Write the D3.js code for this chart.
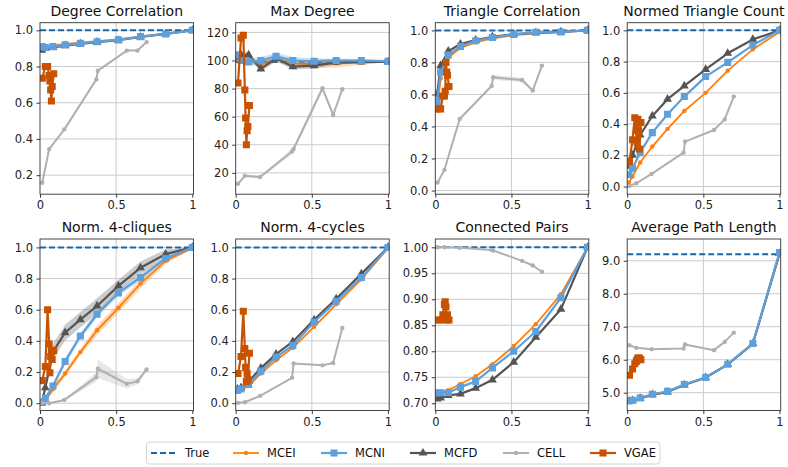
<!DOCTYPE html>
<html>
<head>
<meta charset="utf-8">
<script src="https://cdn.jsdelivr.net/npm/d3@7"></script>
<style>
  body { margin: 0; background: #fff; }
  svg { font-family: "DejaVu Sans", sans-serif; }
</style>
</head>
<body>
<svg id="chart" width="788" height="467"></svg>
<script>
// panel titles, in reading order
const titles = ['Degree Correlation', 'Max Degree', 'Triangle Correlation', 'Normed Triangle Count',
  'Norm. 4-cliques', 'Norm. 4-cycles', 'Connected Pairs', 'Average Path Length'];

// x positions (fraction of edges) for each method
const xMC = [0.012, 0.035, 0.085, 0.165, 0.265, 0.375, 0.515, 0.66, 0.825, 1.0];
const xCell = [0.015, 0.06, 0.16, 0.37, 0.38, 0.57, 0.64, 0.70];
const xVgae = [0.015, 0.035, 0.05, 0.06, 0.065, 0.07, 0.075, 0.08, 0.09];

// true value per panel
const trueVals = [1, 99, 1, 1, 1, 1, 1, 9.2];

// one row per panel
const MCEI = [
  [0.915, 0.91, 0.915, 0.925, 0.932, 0.94, 0.95, 0.967, 0.982, 1.0],
  [103, 101, 100, 97, 101, 98, 97.5, 98, 98.5, 99],
  [0.5, 0.7, 0.83, 0.89, 0.925, 0.95, 0.97, 0.982, 0.99, 1.0],
  [0.026, 0.064, 0.154, 0.256, 0.369, 0.484, 0.60, 0.742, 0.878, 0.99],
  [0.0, 0.017, 0.09, 0.19, 0.328, 0.468, 0.612, 0.768, 0.914, 0.994],
  [0.075, 0.085, 0.11, 0.19, 0.275, 0.355, 0.49, 0.635, 0.795, 0.995],
  [0.72, 0.72, 0.725, 0.737, 0.752, 0.775, 0.81, 0.852, 0.91, 1.0],
  [4.75, 4.77, 4.82, 4.93, 5.02, 5.23, 5.45, 5.85, 6.47, 9.2]
];
const MCNI = [
  [0.91, 0.905, 0.91, 0.92, 0.928, 0.937, 0.947, 0.965, 0.98, 1.0],
  [104, 100, 99, 100, 103, 100, 99.5, 100, 100, 99.5],
  [0.555, 0.74, 0.846, 0.90, 0.935, 0.956, 0.975, 0.988, 0.99, 1.0],
  [0.075, 0.117, 0.217, 0.345, 0.463, 0.576, 0.704, 0.795, 0.906, 1.0],
  [0.006, 0.032, 0.11, 0.268, 0.431, 0.571, 0.708, 0.807, 0.929, 1.0],
  [0.082, 0.092, 0.12, 0.206, 0.296, 0.371, 0.521, 0.654, 0.807, 1.0],
  [0.72, 0.72, 0.72, 0.731, 0.742, 0.768, 0.80, 0.838, 0.903, 1.0],
  [4.75, 4.77, 4.84, 4.95, 5.04, 5.25, 5.46, 5.86, 6.49, 9.25]
];
const MCFD = [
  [0.89, 0.9, 0.905, 0.915, 0.925, 0.935, 0.945, 0.963, 0.98, 1.0],
  [102, 104, 104, 94, 101.5, 95.6, 96.3, 98.7, 99, 99],
  [0.6, 0.78, 0.87, 0.915, 0.94, 0.96, 0.977, 0.985, 0.99, 1.0],
  [0.13, 0.2, 0.33, 0.452, 0.559, 0.644, 0.75, 0.853, 0.942, 1.0],
  [0.0, 0.1, 0.33, 0.453, 0.536, 0.624, 0.753, 0.869, 0.957, 1.0],
  [0.09, 0.10, 0.14, 0.225, 0.315, 0.395, 0.535, 0.67, 0.83, 1.0],
  [0.708, 0.71, 0.715, 0.718, 0.729, 0.745, 0.779, 0.827, 0.881, 1.0],
  [4.74, 4.76, 4.83, 4.94, 5.02, 5.24, 5.46, 5.86, 6.49, 9.22]
];
const CELL = [
  [0.158, 0.344, 0.453, 0.729, 0.777, 0.888, 0.888, 0.935],
  [12.2, 17.9, 17, 35.2, 37, 80.2, 61.2, 79.5],
  [0.05, 0.129, 0.447, 0.653, 0.707, 0.69, 0.624, 0.78],
  [0.004, 0.021, 0.081, 0.217, 0.288, 0.362, 0.43, 0.576],
  [0.002, 0.0, 0.021, 0.167, 0.221, 0.124, 0.14, 0.217],
  [0.002, 0.006, 0.047, 0.163, 0.255, 0.243, 0.258, 0.483],
  [1.0, 1.0, 0.999, 0.995, 0.994, 0.974, 0.965, 0.953],
  [6.44, 6.36, 6.32, 6.34, 6.46, 6.29, 6.54, 6.82]
];
const VGAE = [
  [0.735, 0.80, 0.80, 0.75, 0.72, 0.67, 0.61, 0.69, 0.76],
  [84, 116, 118, 79, 59, 40, 50, 53, 68],
  [0.51, 0.51, 0.59, 0.59, 0.62, 0.80, 0.74, 0.72, 0.65],
  [0.16, 0.30, 0.44, 0.36, 0.28, 0.43, 0.35, 0.24, 0.41],
  [0.145, 0.235, 0.60, 0.38, 0.195, 0.30, 0.33, 0.28, 0.34],
  [0.19, 0.30, 0.59, 0.35, 0.23, 0.14, 0.19, 0.15, 0.32],
  [0.86, 0.86, 0.87, 0.89, 0.895, 0.885, 0.86, 0.87, 0.86],
  [5.53, 5.72, 5.88, 5.95, 6.0, 6.05, 6.02, 6.05, 6.0]
];

// half-width of the shaded spread, only where it is visible (panel index -> values)
const spreadMCEI = { 1: [2, 2, 2, 2, 2, 2, 3, 3, 1.5, 0], 4: [0, 0.01, 0.02, 0.02, 0.02, 0.03, 0.03, 0.03, 0.02, 0] };
const spreadMCNI = { 1: [3, 2.5, 2.5, 2.5, 2.5, 2.5, 2, 1.5, 1, 0], 4: [0, 0.01, 0.02, 0.02, 0.02, 0.02, 0.02, 0.02, 0.01, 0] };
const spreadMCFD = { 1: [2, 2, 2, 2, 2, 2, 2, 1.5, 1, 0], 4: [0, 0.03, 0.05, 0.05, 0.05, 0.05, 0.04, 0.04, 0.03, 0] };
const spreadCELL = { 1: [1, 1, 1, 2, 2, 2, 2, 1], 2: [0.01, 0.01, 0.01, 0.01, 0.015, 0.015, 0.01, 0.01],
  4: [0, 0, 0.005, 0.03, 0.06, 0.03, 0.02, 0.01] };

// layout
const panelLeft = [40, 235.7, 435.3, 627.2];
const rowTop = [22.7, 239];
const plotW = 153.5, plotH = 171.5;
const yDomains = [[0.095, 1.042], [4.8, 126.9], [-0.023, 1.048], [-0.049, 1.049],
  [-0.047, 1.054], [-0.047, 1.054], [0.686, 1.016], [4.46, 9.66]];
const yTicks = [
  [0.2, 0.4, 0.6, 0.8, 1.0], [20, 40, 60, 80, 100, 120], [0, 0.2, 0.4, 0.6, 0.8, 1.0], [0, 0.2, 0.4, 0.6, 0.8, 1.0],
  [0, 0.2, 0.4, 0.6, 0.8, 1.0], [0, 0.2, 0.4, 0.6, 0.8, 1.0], [0.70, 0.75, 0.80, 0.85, 0.90, 0.95, 1.00], [5, 6, 7, 8, 9]
];
const yFormats = ['.1f', 'd', '.1f', '.1f', '.1f', '.1f', '.2f', '.1f'];

const seriesStyle = {
  MCEI: { data: MCEI, x: xMC, spread: spreadMCEI, color: '#ff7f0e', marker: 'dot', lw: 1.8 },
  MCNI: { data: MCNI, x: xMC, spread: spreadMCNI, color: '#5da0db', marker: 'square', lw: 2.2 },
  MCFD: { data: MCFD, x: xMC, spread: spreadMCFD, color: '#555555', marker: 'triangle', lw: 2.2 },
  CELL: { data: CELL, x: xCell, spread: spreadCELL, color: '#b0b0b0', marker: 'dot', lw: 2 },
  VGAE: { data: VGAE, x: xVgae, spread: {}, color: '#c85200', marker: 'square', lw: 2.2 }
};
// drawing order (MCNI sits on top of MCFD in the figure)
const drawOrder = ['MCEI', 'MCFD', 'MCNI', 'CELL', 'VGAE'];
const trueColor = '#1a66aa';

const svg = d3.select('#chart');

function drawMarker(sel, marker, color) {
  if (marker === 'dot') {
    sel.append('circle').attr('r', 2.2).attr('fill', color);
  } else if (marker === 'square') {
    sel.append('path').attr('d', d3.symbol(d3.symbolSquare, 50)()).attr('fill', color);
  } else {
    sel.append('path').attr('d', d3.symbol(d3.symbolTriangle, 34)()).attr('fill', color);
  }
}

titles.forEach((title, p) => {
  const row = Math.floor(p / 4), col = p % 4;
  const g = svg.append('g').attr('transform', `translate(${panelLeft[col]},${rowTop[row]})`);

  const x = d3.scaleLinear().domain([0, 1.008]).range([0, plotW]);
  const y = d3.scaleLinear().domain(yDomains[p]).range([plotH, 0]);

  g.append('clipPath').attr('id', `clip${p}`)
    .append('rect').attr('width', plotW).attr('height', plotH);

  // grid
  const grid = g.append('g').attr('stroke', '#cbcbcb').attr('stroke-width', 1);
  yTicks[p].forEach(t => {
    grid.append('line').attr('x1', 0).attr('x2', plotW).attr('y1', y(t)).attr('y2', y(t));
  });
  grid.append('line').attr('x1', x(0.5)).attr('x2', x(0.5)).attr('y1', 0).attr('y2', plotH);

  const plot = g.append('g').attr('clip-path', `url(#clip${p})`);

  // true value
  plot.append('line')
    .attr('x1', 0).attr('x2', plotW)
    .attr('y1', y(trueVals[p])).attr('y2', y(trueVals[p]))
    .attr('stroke', trueColor).attr('stroke-width', 2).attr('stroke-dasharray', '6,3');

  drawOrder.forEach(name => {
    const s = seriesStyle[name];
    const vals = s.data[p];
    const pts = vals.map((v, i) => ({ x: s.x[i], y: v }));
    const sp = s.spread[p];
    if (sp) {
      const area = d3.area()
        .x(d => x(d.x))
        .y0((d, i) => y(d.y - sp[i]))
        .y1((d, i) => y(d.y + sp[i]));
      plot.append('path').datum(pts)
        .attr('d', area)
        .attr('fill', s.color).attr('fill-opacity', 0.3);
    }
    const line = d3.line().x(d => x(d.x)).y(d => y(d.y));
    plot.append('path').datum(pts)
      .attr('d', line)
      .attr('fill', 'none').attr('stroke', s.color).attr('stroke-width', s.lw)
      .attr('stroke-linejoin', 'round');
    plot.selectAll(null).data(pts).enter()
      .append('g')
      .attr('transform', d => `translate(${x(d.x)},${y(d.y)})`)
      .each(function() { drawMarker(d3.select(this), s.marker, s.color); });
  });

  // axes
  const fmt = d3.format(yFormats[p]);
  const yAxis = d3.axisLeft(y).tickValues(yTicks[p]).tickFormat(fmt).tickSize(3.5).tickPadding(3.5);
  const xAxis = d3.axisBottom(x).tickValues([0, 0.5, 1]).tickFormat(d => d === 0.5 ? '0.5' : String(d))
    .tickSize(3.5).tickPadding(3.5);
  const ya = g.append('g').call(yAxis);
  const xa = g.append('g').attr('transform', `translate(0,${plotH})`).call(xAxis);
  [ya, xa].forEach(a => {
    a.select('.domain').remove();
    a.selectAll('line').attr('stroke', '#222').attr('stroke-width', 0.9);
    a.selectAll('text').attr('font-size', 11.5).attr('fill', '#222')
      .attr('font-family', '"DejaVu Sans", sans-serif');
  });

  // spines
  g.append('rect').attr('width', plotW).attr('height', plotH)
    .attr('fill', 'none').attr('stroke', '#333').attr('stroke-width', 0.9);

  g.append('text')
    .attr('x', plotW / 2).attr('y', -7)
    .attr('text-anchor', 'middle')
    .attr('font-size', 14).attr('fill', '#111')
    .text(title);
});

// legend
const legendEntries = ['True', 'MCEI', 'MCNI', 'MCFD', 'CELL', 'VGAE'];
const legendX = [151, 233, 321, 410, 503, 590];
const legend = svg.append('g');
legend.append('rect')
  .attr('x', 146.5).attr('y', 442).attr('width', 513.5).attr('height', 22).attr('rx', 3)
  .attr('fill', '#fff').attr('stroke', '#d5d5d5').attr('stroke-width', 1);
legendEntries.forEach((name, i) => {
  const lg = legend.append('g').attr('transform', `translate(${legendX[i]},453)`);
  if (name === 'True') {
    lg.append('line').attr('x1', 0).attr('x2', 25).attr('stroke', trueColor)
      .attr('stroke-width', 2).attr('stroke-dasharray', '6,3');
  } else {
    const s = seriesStyle[name];
    lg.append('line').attr('x1', 0).attr('x2', 26).attr('stroke', s.color).attr('stroke-width', s.lw);
    drawMarker(lg.append('g').attr('transform', 'translate(13,0)'), s.marker, s.color);
  }
  lg.append('text').attr('x', 34).attr('y', 4.2)
    .attr('font-size', 11.5).attr('fill', '#111').text(name);
});
</script>
</body>
</html>
